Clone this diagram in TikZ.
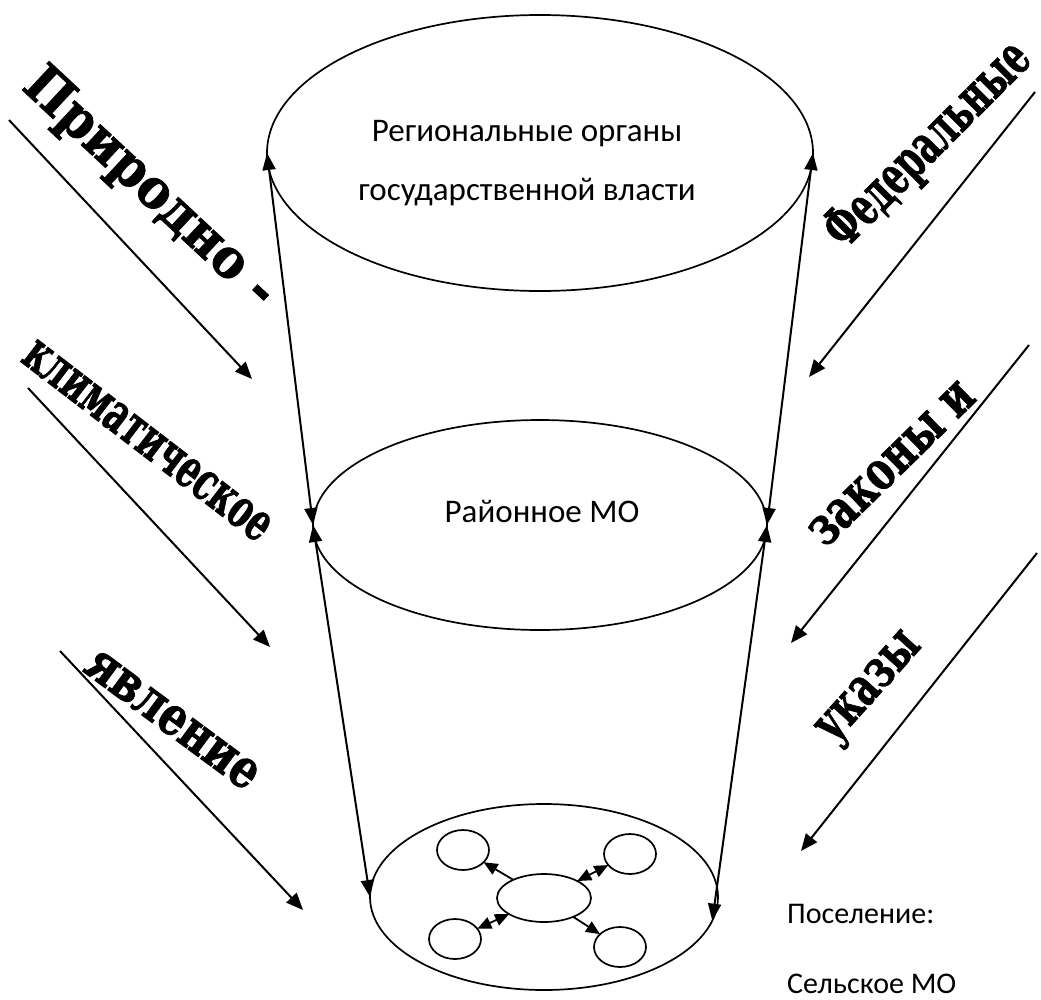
\documentclass[tikz,border=0pt]{standalone}
\usepackage{fontspec}
\setmainfont{Carlito}
\newfontfamily\wafont[BoldFeatures={FakeBold=1.6}]{DejaVu Serif}
\usetikzlibrary{arrows.meta,shapes.geometric}
\begin{document}
\begin{tikzpicture}[x=1pt,y=-1pt]
\tikzset{
 oval/.style={draw, ellipse, line width=1.7pt, inner sep=0pt, outer sep=0pt},
 conn/.style={line width=2pt, {Triangle[length=17pt,width=13pt]}-{Triangle[length=17pt,width=13pt]}},
 push/.style={line width=2pt, -{Triangle[length=17pt,width=14pt]}},
 tiny/.style={line width=1.8pt, -{Triangle[length=14pt,width=12pt]}},
 tinyboth/.style={line width=1.8pt, {Triangle[length=14pt,width=12pt]}-{Triangle[length=14pt,width=12pt]}},
 lbl/.style={inner sep=0pt, font=\fontsize{33}{59}\selectfont},
 side/.style={inner sep=0pt, font=\fontsize{30}{35}\selectfont, anchor=base west},
 wa/.style={inner sep=0pt, font=\wafont\bfseries\fontsize{54}{60}\selectfont}
}
\useasboundingbox (0,0) rectangle (1041,999);

% main levels
\node[oval, minimum width=546pt, minimum height=276pt] (reg) at (540,153) {};
\node[oval, minimum width=454pt, minimum height=210pt] (rai) at (540,525) {};
\node[oval, minimum width=348pt, minimum height=186pt] (sel) at (544,897) {};

\node[lbl, align=center] (regt) at (527,163) {Региональные органы\\государственной власти};
\node[lbl, anchor=base] (rait) at (542,522) {Районное МО};

% settlement internals
\node[oval, minimum width=94pt, minimum height=48pt] (c) at (544,898) {};
\node[oval, minimum width=52pt, minimum height=40pt] (tl) at (463,850) {};
\node[oval, minimum width=52pt, minimum height=40pt] (tr) at (630,854) {};
\node[oval, minimum width=52pt, minimum height=40pt] (bl) at (455,939) {};
\node[oval, minimum width=52pt, minimum height=40pt] (br) at (620,947) {};
\draw[tiny] (c) -- (tl);
\draw[tinyboth] (c) -- (tr);
\draw[tinyboth] (c) -- (bl);
\draw[tiny] (c) -- (br);

% vertical links
\draw[conn] (reg.west) -- (rai.west);
\draw[conn] (reg.east) -- (rai.east);
\draw[conn] (rai.west) -- (sel.west);
\draw[conn] (rai.east) -- (sel.-8);

% side labels
\node[side] (pos) at (787,923) {Поселение:};
\node[side] (selt) at (787,993) {Сельское МО};

% outer influences, left
\coordinate (l1s) at (9,120);   \coordinate (l1e) at (252,379);
\coordinate (l2s) at (28,388);  \coordinate (l2e) at (270,647);
\coordinate (l3s) at (60,651);  \coordinate (l3e) at (303,910);
\draw[push] (l1s) -- (l1e);
\draw[push] (l2s) -- (l2e);
\draw[push] (l3s) -- (l3e);
% outer influences, right
\coordinate (r1s) at (1035,92);  \coordinate (r1e) at (809,377);
\coordinate (r2s) at (1029,345); \coordinate (r2e) at (791,643);
\coordinate (r3s) at (1037,553); \coordinate (r3e) at (801,851);
\draw[push] (r1s) -- (r1e);
\draw[push] (r2s) -- (r2e);
\draw[push] (r3s) -- (r3e);

% rotated words
\node[wa, rotate=-43] (w1) at (149,189) {\resizebox{325pt}{\height}{Природно -}};
\node[wa, rotate=-37.5] (w2) at (147,441) {\resizebox{300pt}{\height}{климатическое}};
\node[wa, rotate=-36.5] (w3) at (172,720) {\resizebox{204pt}{\height}{явление}};
\node[wa, rotate=45] (w4) at (929,146) {\resizebox{267pt}{\height}{Федеральные}};
\node[wa, rotate=44.4] (w5) at (892,464) {\resizebox{213pt}{\height}{законы и}};
\node[wa, rotate=48] (w6) at (872,690) {\resizebox{132pt}{\height}{указы}};
\end{tikzpicture}
\end{document}
